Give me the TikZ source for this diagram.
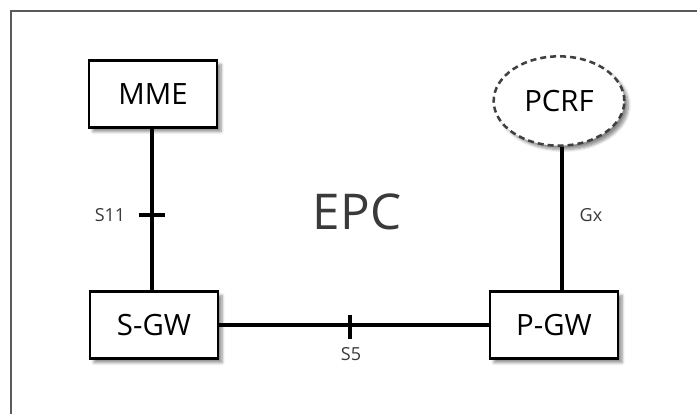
\documentclass[tikz,border=0pt]{standalone}
\usepackage{fontspec}
\setmainfont{Open Sans}
\usetikzlibrary{shapes.geometric,shadows.blur}
\definecolor{framegray}{HTML}{5A5A5A}
\definecolor{epcgray}{HTML}{3A3A3A}
\definecolor{dashgray}{HTML}{404040}
\begin{document}
\begin{tikzpicture}[
  x=0.75pt, y=-0.75pt,
  every node/.style={font=\fontsize{22}{26}\selectfont, inner sep=0pt},
  entity/.style={draw, line width=2.2pt, fill=white, minimum width=96pt, minimum height=50.5pt,
                 blur shadow={shadow xshift=3pt, shadow yshift=-3pt, shadow blur steps=6, shadow opacity=45}},
  policy/.style={ellipse, draw=dashgray, line width=1.9pt, dash pattern=on 4.5pt off 3pt, fill=white,
                 minimum width=98pt, minimum height=67pt,
                 blur shadow={shadow xshift=3pt, shadow yshift=-3pt, shadow blur steps=6, shadow opacity=45}},
  link/.style={line width=3pt},
  iface/.style={font=\fontsize{13.5}{16}\selectfont, text=epcgray}
]
  \useasboundingbox (0,0) rectangle (697,414);
  \draw[framegray, line width=2pt] (11,414) -- (11,11) -- (697,11);
  \node[font=\fontsize{37}{44}\selectfont, text=epcgray] (epc) at (357,212) {EPC};
  \node[entity] (mme) at (153,94) {MME};
  \node[entity] (sgw) at (154,325) {S-GW};
  \node[entity] (pgw) at (554,325) {P-GW};
  \node[policy] (pcrf) at (559,101) {PCRF};
  \draw[link] (mme.south -| 152,0) -- (sgw.north -| 152,0);
  \draw[link] (sgw.east) -- (pgw.west);
  \draw[link] (pcrf.south -| 562,0) -- (pgw.north -| 562,0);
  \coordinate (s11) at (152,215);
  \coordinate (s5) at (350,327);
  \draw[link] ([xshift=-10pt]s11) -- ([xshift=10pt]s11);
  \draw[link] ([yshift=-9pt]s5) -- ([yshift=9pt]s5);
  \node[iface] at (110,215) {S11};
  \node[iface] at (351,354) {S5};
  \node[iface] at (591,215) {Gx};
\end{tikzpicture}
\end{document}
